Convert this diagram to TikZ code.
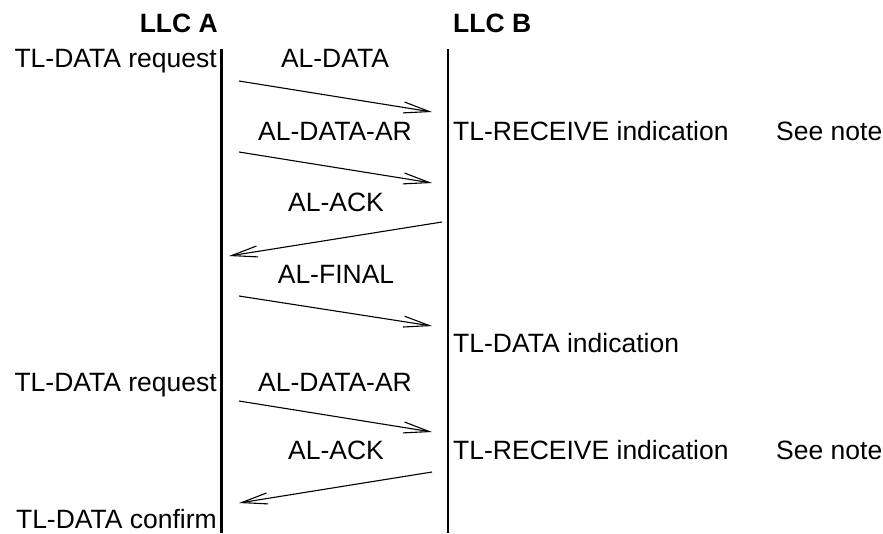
\documentclass[tikz,border=0pt]{standalone}
\usepackage{fontspec}
\setmainfont{Liberation Sans}
\usetikzlibrary{arrows.meta}
\begin{document}
\begin{tikzpicture}[x=1pt,y=-1pt,
  txt/.style={inner sep=0pt,font=\fontsize{26.5}{30}\selectfont},
  hdr/.style={txt,font=\fontsize{26.5}{30}\selectfont\bfseries},
  lifeline/.style={line width=2.4pt},
  msg/.style={line width=1.1pt,-{Straight Barb[length=26pt,width=11pt,line width=1.1pt]}}]
\useasboundingbox (0,0) rectangle (883,533);
% headers
\node[hdr,anchor=base east] (hA) at (218,32) {LLC A};
\node[hdr,anchor=base west] (hB) at (453,32) {LLC B};
% lifelines
\coordinate (At) at (221.5,49); \coordinate (Ab) at (221.5,533);
\coordinate (Bt) at (448,49);   \coordinate (Bb) at (448,533);
\draw[lifeline] (At) -- (Ab);
\draw[lifeline] (Bt) -- (Bb);
% left texts
\node[txt,anchor=base east] (req1) at (217,67) {TL-DATA request};
\node[txt,anchor=base east] (req2) at (217,391) {TL-DATA request};
\node[txt,anchor=base east] (conf) at (217,528) {TL-DATA confirm};
% right texts
\node[txt,anchor=base west] (rec1) at (453,140) {TL-RECEIVE indication};
\node[txt,anchor=base west] (note1) at (776,140) {See note};
\node[txt,anchor=base west] (ind) at (453,352) {TL-DATA indication};
\node[txt,anchor=base west] (rec2) at (453,459) {TL-RECEIVE indication};
\node[txt,anchor=base west] (note2) at (776,459) {See note};
% message labels
\node[txt,anchor=base] (m1) at (335,67) {AL-DATA};
\node[txt,anchor=base] (m2) at (335,140) {AL-DATA-AR};
\node[txt,anchor=base] (m3) at (336,211) {AL-ACK};
\node[txt,anchor=base] (m4) at (336,283) {AL-FINAL};
\node[txt,anchor=base] (m5) at (335,391) {AL-DATA-AR};
\node[txt,anchor=base] (m6) at (336,459) {AL-ACK};
% arrow endpoints
\coordinate (s1) at (239,81);  \coordinate (e1) at (432,112);
\coordinate (s2) at (239,152); \coordinate (e2) at (432,183);
\coordinate (s3) at (442,222); \coordinate (e3) at (229,256);
\coordinate (s4) at (239,296); \coordinate (e4) at (432,326);
\coordinate (s5) at (239,401); \coordinate (e5) at (432,432);
\coordinate (s6) at (432,472); \coordinate (e6) at (239,503);
\draw[msg] (s1) -- (e1);
\draw[msg] (s2) -- (e2);
\draw[msg] (s3) -- (e3);
\draw[msg] (s4) -- (e4);
\draw[msg] (s5) -- (e5);
\draw[msg] (s6) -- (e6);
\end{tikzpicture}
\end{document}
